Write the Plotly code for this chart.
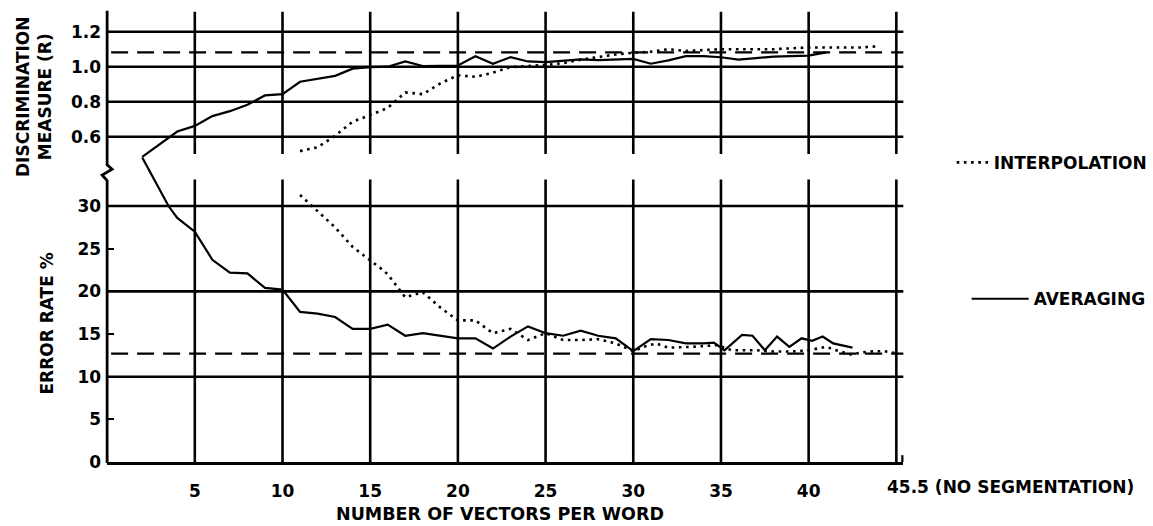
import plotly.graph_objects as go

# ---- measured data -------------------------------------------------------
# discrimination measure R, averaging method
avg_r_x = list(range(2, 42))
avg_r = [0.485, 0.555, 0.63, 0.662, 0.718, 0.746, 0.783, 0.836, 0.843, 0.914,
         0.933, 0.948, 0.989, 0.998, 1.0, 1.03, 1.004, 1.005, 1.007, 1.06,
         1.017, 1.054, 1.03, 1.026, 1.035, 1.042, 1.037, 1.039, 1.045, 1.017,
         1.036, 1.06, 1.06, 1.054, 1.041, 1.049, 1.058, 1.06, 1.063, 1.082]

# discrimination measure R, interpolation method
interp_r_x = list(range(11, 45))
interp_r = [0.518, 0.54, 0.606, 0.686, 0.724, 0.765, 0.853, 0.843, 0.905, 0.951,
            0.942, 0.966, 0.998, 1.003, 1.01, 1.02, 1.04, 1.055, 1.07, 1.08,
            1.085, 1.1, 1.09, 1.095, 1.1, 1.1, 1.1, 1.1, 1.105, 1.11,
            1.11, 1.11, 1.11, 1.117]

# error rate %, averaging method
avg_err_x = [2, 3.5, 4, 5, 6, 7, 8, 9, 10, 11, 12, 13, 14, 15, 16, 17, 18, 19,
             20, 21, 22, 23, 24, 25, 26, 27, 28, 29, 30, 31, 32, 33, 34, 34.6,
             35.2, 36.2, 36.8, 37.5, 38.2, 38.9, 39.6, 40.2, 40.8, 41.4, 42.5]
avg_err = [35.7, 30.0, 28.6, 27.0, 23.7, 22.2, 22.1, 20.4, 20.2, 17.6, 17.4,
           17.0, 15.6, 15.6, 16.1, 14.8, 15.1, 14.8, 14.5, 14.5, 13.3, 14.7,
           15.9, 15.1, 14.8, 15.4, 14.8, 14.5, 13.0, 14.4, 14.3, 13.9, 13.9,
           14.0, 13.1, 14.9, 14.8, 13.1, 14.7, 13.5, 14.5, 14.2, 14.7, 13.9, 13.4]

# error rate %, interpolation method
interp_err_x = [11, 12, 13, 14, 15, 15.6, 16, 17, 18, 19, 20, 21, 22, 23, 24,
                25, 26, 27, 28, 29, 30, 30.6, 31.3, 32, 33.4, 34.8, 35.6, 37,
                38, 39, 40, 41, 41.8, 42.4, 43.4, 44.3, 45]
interp_err = [31.3, 29.4, 27.5, 25.2, 23.7, 22.7, 22.0, 19.3, 19.9, 18.1, 16.6,
              16.6, 15.1, 15.6, 14.3, 15.1, 14.3, 14.3, 14.4, 13.9, 13.0, 13.5,
              13.9, 13.4, 13.5, 13.7, 13.1, 13.1, 12.95, 12.95, 13.1, 13.5,
              12.95, 12.6, 12.95, 13.0, 12.75]

# reference levels without segmentation (45.5 vectors per word)
nosegment_r = 1.082
nosegment_err = 12.7

# axes ticks
x_ticks = [5, 10, 15, 20, 25, 30, 35, 40, 45]
x_tick_text = ["5", "10", "15", "20", "25", "30", "35", "40", ""]
r_ticks = [0.6, 0.8, 1.0, 1.2]
r_tick_text = ["0.6", "0.8", "1.0", "1.2"]
err_ticks = [0, 5, 10, 15, 20, 25, 30]
err_tick_text = ["0", "5", "10", "15", "20", "25", "30"]
err_grid = [10, 20, 30]

# ---- layout geometry -----------------------------------------------------
W, H = 1153, 526
FONT = "DejaVu Sans, sans-serif"
INK = "black"


def py(p):
    """pixel row -> paper y"""
    return 1 - p / H


def px(p):
    """pixel column -> paper x"""
    return p / W


x_left, x_right = 107.5, 906.5
top_lo, top_hi = 160, 11          # pixel rows of the R panel
bot_lo, bot_hi = 471, 160         # pixel rows of the error panel
x_range = [0, 45.4]
r_range = [0.4846, 1.3193]
err_range = [0, 35.75]

fig = go.Figure()

dot_line = dict(color=INK, width=2.6, dash="2.6px,4.6px")
solid_line = dict(color=INK, width=2.2)

fig.add_trace(go.Scatter(x=interp_r_x, y=interp_r, mode="lines", line=dot_line,
                         name="INTERPOLATION", legend="legend",
                         xaxis="x", yaxis="y"))
fig.add_trace(go.Scatter(x=avg_r_x, y=avg_r, mode="lines", line=solid_line,
                         name="AVERAGING", legend="legend2",
                         xaxis="x", yaxis="y"))
fig.add_trace(go.Scatter(x=interp_err_x, y=interp_err, mode="lines", line=dot_line,
                         showlegend=False, xaxis="x2", yaxis="y2"))
fig.add_trace(go.Scatter(x=avg_err_x, y=avg_err, mode="lines", line=solid_line,
                         showlegend=False, xaxis="x2", yaxis="y2"))

shapes = []
grid = dict(color=INK, width=2.6)

# vertical grid lines, upper and lower panel
top_v0 = (top_lo - 157) / (top_lo - top_hi)
top_v1 = (top_lo - 12) / (top_lo - top_hi)
bot_v1 = (bot_lo - 183) / (bot_lo - bot_hi)
for xv in x_ticks:
    shapes.append(dict(type="line", xref="x", yref="y domain", x0=xv, x1=xv,
                       y0=top_v0, y1=top_v1, line=grid, layer="below"))
    shapes.append(dict(type="line", xref="x2", yref="y2 domain", x0=xv, x1=xv,
                       y0=0, y1=bot_v1, line=grid, layer="below"))

# horizontal grid lines
for rv in r_ticks:
    shapes.append(dict(type="line", xref="x domain", yref="y", x0=0, x1=1,
                       y0=rv, y1=rv, line=grid, layer="below"))
for ev in err_grid:
    shapes.append(dict(type="line", xref="x2 domain", yref="y2", x0=0, x1=1,
                       y0=ev, y1=ev, line=grid, layer="below"))

# dashed reference levels (no segmentation)
dash = dict(color=INK, width=2.2, dash="17px,9px")
shapes.append(dict(type="line", xref="x domain", yref="y", x0=0.005, x1=1,
                   y0=nosegment_r, y1=nosegment_r, line=dash, layer="below"))
shapes.append(dict(type="line", xref="x2 domain", yref="y2", x0=0.005, x1=1,
                   y0=nosegment_err, y1=nosegment_err, line=dash, layer="below"))

# left axis with a break between the two scales
ax = px(x_left)
brk = 5 / W
shapes.append(dict(
    type="path", xref="paper", yref="paper",
    path=(f"M{ax},{py(top_hi)} L{ax},{py(168)} L{ax + brk},{py(172.5)} "
          f"L{ax - brk},{py(178.5)} L{ax},{py(184)} L{ax},{py(bot_lo + 1)}"),
    line=dict(color=INK, width=2.8)))

# small end tick on the horizontal axis
shapes.append(dict(type="line", xref="paper", yref="paper",
                   x0=px(x_right - 1), x1=px(x_right - 1),
                   y0=py(bot_lo), y1=py(bot_lo - 7),
                   line=dict(color=INK, width=2.2)))

tick_font = dict(family=FONT, size=17, color=INK, weight="bold")
label_font = dict(family=FONT, size=17, color=INK, weight="bold")

fig.update_layout(
    width=W, height=H,
    margin=dict(l=0, r=0, t=0, b=0),
    paper_bgcolor="white", plot_bgcolor="white",
    font=label_font,
    shapes=shapes,
    xaxis=dict(domain=[px(x_left), px(x_right)], range=x_range, anchor="y",
               showgrid=False, zeroline=False, showticklabels=False,
               showline=False, ticks=""),
    yaxis=dict(domain=[py(top_lo), py(top_hi)], range=r_range, anchor="x",
               tickvals=r_ticks, ticktext=r_tick_text, ticks="",
               showgrid=False, zeroline=False, showline=False,
               tickfont=tick_font, ticklabelstandoff=5),
    xaxis2=dict(domain=[px(x_left), px(x_right)], range=x_range, anchor="y2",
                matches="x", tickvals=x_ticks, ticktext=x_tick_text, ticks="",
                showgrid=False, zeroline=False, showline=True,
                linecolor=INK, linewidth=2.8, tickfont=tick_font,
                ticklabelstandoff=12),
    yaxis2=dict(domain=[py(bot_lo), py(bot_hi)], range=err_range, anchor="x2",
                tickvals=err_ticks, ticktext=err_tick_text, ticks="inside",
                ticklen=7, tickwidth=2.4, tickcolor=INK,
                showgrid=False, zeroline=False, showline=False,
                tickfont=tick_font, ticklabelstandoff=5),
    legend=dict(x=px(955), y=py(166), xanchor="left", yanchor="middle",
                bgcolor="rgba(0,0,0,0)", borderwidth=0, itemwidth=32,
                font=label_font),
    legend2=dict(x=px(970), y=py(305), xanchor="left", yanchor="middle",
                 bgcolor="rgba(0,0,0,0)", borderwidth=0, itemwidth=57,
                 font=label_font),
    annotations=[
        dict(text="DISCRIMINATION<br>MEASURE (R)", xref="paper", yref="paper",
             x=px(34), y=py(99), textangle=-90, showarrow=False,
             xanchor="center", yanchor="middle"),
        dict(text="ERROR RATE %", xref="paper", yref="paper",
             x=px(47), y=py(330), textangle=-90, showarrow=False,
             xanchor="center", yanchor="middle"),
        dict(text="NUMBER OF VECTORS PER WORD", xref="paper", yref="paper",
             x=px(502), y=py(524), showarrow=False,
             xanchor="center", yanchor="middle",
             font=dict(family=FONT, size=17.5, color=INK, weight="bold")),
        dict(text="45.5 (NO SEGMENTATION)", xref="x2", yref="paper",
             x=45, y=py(496), xshift=-11, showarrow=False,
             xanchor="left", yanchor="middle"),
    ],
)

fig.write_html("out.html")
